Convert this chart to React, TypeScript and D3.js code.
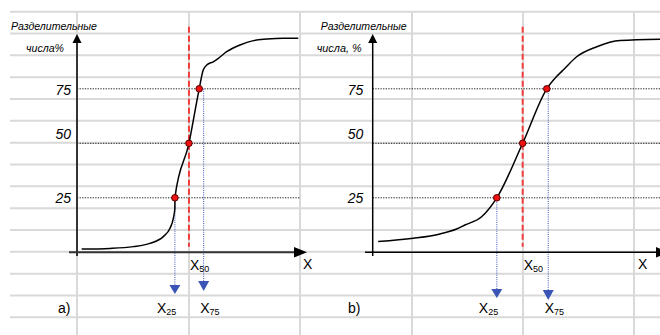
import React from "react";
import * as d3 from "d3";

// ---- data ----
const yTicks = [25, 50, 75];
const yTickLabels = ["25", "50", "75"];

// panel a) cumulative curve (x in arbitrary units 0..100, y in %)
const curveAX = [2.1, 14.8, 25.2, 32.7, 38.7, 41.7, 43.2, 43.9, 43.9, 50.2, 54.8, 56.6, 58.2, 61.1, 63.4, 67.1, 73.1, 79.1, 85.1, 92.5, 99.2];
const curveAY = [1.5, 1.8, 2.6, 4.1, 7.2, 11.0, 15.6, 20.2, 25, 50, 75, 83.6, 85.9, 87.4, 89.0, 92.0, 95.1, 97.1, 97.8, 98.2, 98.2];
const markAX = [43.9, 50.2, 54.8];
const markAY = [25, 50, 75];
const dropA = [43.9, 56.8];
const medianA = 50.2;

// panel b)
const curveBX = [1.9, 14.1, 23.4, 29.2, 32.1, 37.9, 43.2, 52.2, 60.6, 64.0, 66.3, 71.0, 78.0, 86.1, 100];
const curveBY = [4.9, 6.4, 8.4, 10.7, 12.5, 16.3, 25, 50, 75, 80.6, 83.6, 89.7, 94.3, 97.1, 97.7];
const markBX = [43.2, 52.2, 60.6];
const markBY = [25, 50, 75];
const dropB = [43.2, 61.1];
const medianB = 52.2;

const panelLetters = ["a)", "b)"];
const yTitle1 = "Разделительные";
const yTitle2 = ["числа%", "числа, %"];
const subs = ["25", "50", "75"];

const W = 660, H = 335;
const font = "'Liberation Sans', Arial, sans-serif";

export default function App() {
  const y = d3.scaleLinear().domain([0, 100]).range([252.3, 34.3]);
  const xA = d3.scaleLinear().domain([0, 100]).range([77, 300]);
  const xB = d3.scaleLinear().domain([0, 100]).range([372.7, 660]);

  const rowYs = d3.range(15).map((i) => 11.7 + i * 21.83);
  const colXs = [77, 189, 300, 412, 523, 634];

  const panels = [
    { x: xA, cx: curveAX, cy: curveAY, mx: markAX, my: markAY, drop: dropA, med: medianA,
      axisX: 77, axisColor: "#333", axisW: 2, xEnd: 296, xTip: 307, xStart: 69, xRight: 300,
      tri: [[285, 294], [281, 291]], letterX: 58, axisLabelX: 303, titleX: 11, title2X: 26,
      numRight: 71, title2Len: 38 },
    { x: xB, cx: curveBX, cy: curveBY, mx: markBX, my: markBY, drop: dropB, med: medianB,
      axisX: 372.7, axisColor: "#000", axisW: 1.5, xEnd: 658, xTip: 669, xStart: 365, xRight: 660,
      tri: [[289, 298], [290, 300]], letterX: 348, axisLabelX: 638, titleX: 320.7, title2X: 316.7,
      numRight: 363.3, title2Len: 45 },
  ];

  const labelBaselines = [95, 139.3, 203.3];
  const lowerBase = [313, 313];
  const blue = "#3a55b5";

  return (
    <svg width={W} height={H} style={{ position: "absolute", left: 0, top: 0, background: "#fff" }}>
      <rect x={0} y={0} width={W} height={H} fill="#fff" />
      {/* spreadsheet grid */}
      {rowYs.map((ry, i) => (
        <line key={"r" + i} x1={10} x2={W} y1={ry} y2={ry} stroke="#d9d9d9" strokeWidth={2} />
      ))}
      {colXs.map((cx, i) => (
        <line key={"c" + i} x1={cx} x2={cx} y1={11.7} y2={H} stroke="#d9d9d9" strokeWidth={2} />
      ))}

      {panels.map((p, pi) => {
        const line = d3
          .line<number>()
          .x((_, i) => p.x(p.cx[i]))
          .y((_, i) => y(p.cy[i]))
          .curve(d3.curveMonotoneX);
        const x50 = p.x(p.med);
        return (
          <g key={pi}>
            {/* white under the y axis */}
            {/* dotted level lines */}
            {yTicks.map((t, i) => (
              <line key={"h" + i} x1={p.axisX} x2={p.xRight} y1={y(t)} y2={y(t)}
                stroke="#222" strokeWidth={1} strokeDasharray="1.3,1.3" />
            ))}
            {/* red dashed median */}
            <line x1={x50} x2={x50} y1={y(103.5)} y2={y(2.5)} stroke="#f03c3c"
              strokeWidth={2} strokeDasharray="6,3" />
            {/* blue dotted drops */}
            {p.drop.map((d, i) => {
              const dx = p.x(d);
              const [t0, t1] = p.tri[i];
              return (
                <g key={"d" + i}>
                  <line x1={dx} x2={dx} y1={y(p.my[i === 0 ? 0 : 2])} y2={t0}
                    stroke={blue} strokeWidth={1} strokeDasharray="1,1.2" />
                  <path d={`M${dx - 5.5},${t0} L${dx + 5.5},${t0} L${dx},${t1} Z`} fill={blue} />
                </g>
              );
            })}
            {/* axes */}
            <line x1={p.axisX} x2={p.axisX} y1={256} y2={40} stroke={p.axisColor} strokeWidth={p.axisW} />
            <path d={`M${p.axisX - 4.5},${43} L${p.axisX + 4.5},${43} L${p.axisX},${34} Z`} fill="#000" />
            <line x1={p.xStart} x2={p.xEnd} y1={252.3} y2={252.3} stroke={p.axisColor} strokeWidth={p.axisW} />
            <path d={`M${p.xEnd - 2},${247} L${p.xEnd - 2},${257.6} L${p.xTip},${252.3} Z`} fill="#000" />
            {/* curve */}
            <path d={line(p.cx) || ""} fill="none" stroke="#000" strokeWidth={1.5} />
            {p.mx.map((m, i) => (
              <circle key={"m" + i} cx={p.x(m)} cy={y(p.my[i])} r={3.3} fill="#ee1111"
                stroke="#5a0000" strokeWidth={1} />
            ))}
            {/* y tick labels */}
            {yTickLabels.map((l, i) => (
              <text key={"yl" + i} x={p.numRight} y={labelBaselines[2 - i]} textAnchor="end"
                fontFamily={font} fontStyle="italic" fontSize={14} fill="#000">{l}</text>
            ))}
            {/* y title */}
            <text x={p.titleX} y={30} fontFamily={font} fontStyle="italic" fontSize={10}
              textLength={86} lengthAdjust="spacingAndGlyphs" fill="#000">{yTitle1}</text>
            <text x={p.title2X} y={51.5} fontFamily={font} fontStyle="italic" fontSize={10}
              textLength={p.title2Len} lengthAdjust="spacingAndGlyphs" fill="#000">{yTitle2[pi]}</text>
            {/* x labels */}
            <text x={p.axisLabelX} y={268.5} fontFamily={font} fontSize={14} fill="#000">X</text>
            <text x={x50 + 1} y={269.5} fontFamily={font} fontSize={14} fill="#000">
              X<tspan fontSize={9} dy={2.5}>{subs[1]}</tspan>
            </text>
            <text x={p.x(p.drop[0]) - 18} y={lowerBase[0]} fontFamily={font} fontSize={14} fill="#000">
              X<tspan fontSize={9} dy={1.5}>{subs[0]}</tspan>
            </text>
            <text x={p.x(p.drop[1]) - 3.5} y={lowerBase[1]} fontFamily={font} fontSize={14} fill="#000">
              X<tspan fontSize={9} dy={1.5}>{subs[2]}</tspan>
            </text>
            <text x={p.letterX} y={313} fontFamily={font} fontSize={14} fill="#000">{panelLetters[pi]}</text>
          </g>
        );
      })}
    </svg>
  );
}
